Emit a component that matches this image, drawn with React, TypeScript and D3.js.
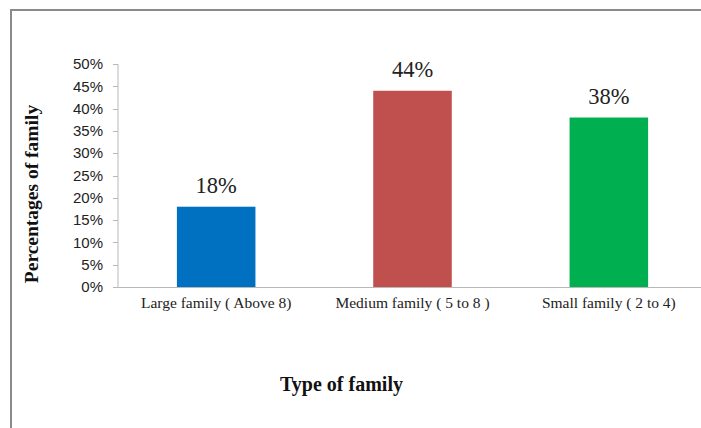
import React from "react";
import * as d3 from "d3";

const categories = ["Large family ( Above 8)", "Medium family ( 5 to 8 )", "Small family ( 2 to 4)"];
const values = [18, 44, 38];
const barColors = ["#0070C0", "#C0504D", "#00B050"];
const yTicks = [0, 5, 10, 15, 20, 25, 30, 35, 40, 45, 50];

const W = 701;
const H = 428;
const plot = { left: 118, right: 707, top: 64, bottom: 287 };

export default function App() {
  const x = d3.scaleBand<string>().domain(categories).range([plot.left, plot.right]).paddingInner(0.6).paddingOuter(0.3);
  const y = d3.scaleLinear().domain([0, 50]).range([plot.bottom, plot.top]);
  const serif = "'Liberation Serif', 'Times New Roman', serif";
  const sans = "'Liberation Sans', Arial, sans-serif";
  const axisColor = "#b8b8b8";

  return (
    <svg width={W} height={H} style={{ position: "fixed", left: 0, top: 0, background: "#fff" }}>
      <rect x={0} y={0} width={W} height={H} fill="#fff" />
      {/* frame */}
      <path d={`M11,${H} V10 H${W}`} fill="none" stroke="#8a8a8a" strokeWidth={2} />

      {/* y axis */}
      <line x1={plot.left} x2={plot.left} y1={y(50)} y2={y(0)} stroke={axisColor} strokeWidth={1} />
      {yTicks.map((t) => (
        <g key={t}>
          <line x1={plot.left - 5} x2={plot.left} y1={Math.round(y(t)) + 0.5} y2={Math.round(y(t)) + 0.5} stroke={axisColor} />
          <text x={103} y={y(t)} dy="0.35em" textAnchor="end" fontFamily={sans} fontSize={15} fill="#222">
            {t}%
          </text>
        </g>
      ))}

      {/* bars */}
      {categories.map((c, i) => (
        <g key={c}>
          <rect x={x(c)} y={y(values[i])} width={x.bandwidth()} height={y(0) - y(values[i])} fill={barColors[i]} />
          <text x={(x(c) ?? 0) + x.bandwidth() / 2} y={y(values[i]) - 14} textAnchor="middle" fontFamily={serif} fontSize={22.5} fill="#222">
            {values[i]}%
          </text>
          <text x={(x(c) ?? 0) + x.bandwidth() / 2} y={308} textAnchor="middle" fontFamily={serif} fontSize={15.5} fill="#222">
            {c}
          </text>
        </g>
      ))}

      {/* x axis */}
      <line x1={plot.left - 5} x2={W} y1={Math.round(y(0)) + 0.5} y2={Math.round(y(0)) + 0.5} stroke={axisColor} />

      {/* axis titles */}
      <text x={341.5} y={391} textAnchor="middle" fontFamily={serif} fontWeight="bold" fontSize={20} fill="#111">
        Type of family
      </text>
      <text transform={`translate(37.5,194) rotate(-90)`} textAnchor="middle" fontFamily={serif} fontWeight="bold" fontSize={19.5} fill="#111">
        Percentages of family
      </text>
    </svg>
  );
}
